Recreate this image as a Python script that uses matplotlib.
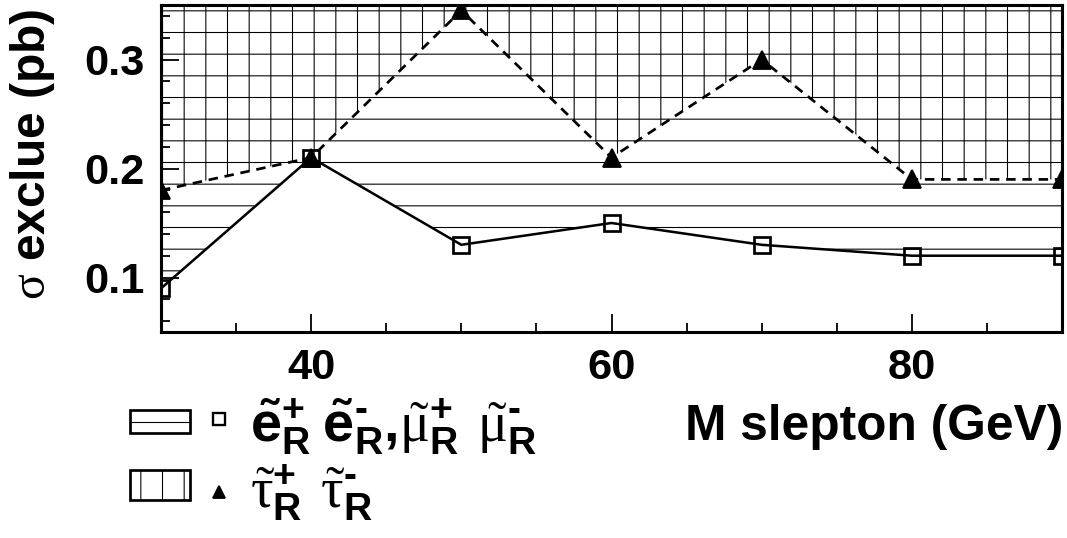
import matplotlib
matplotlib.use('Agg')
import matplotlib.pyplot as plt
from matplotlib.lines import Line2D
from matplotlib.patches import Rectangle
from matplotlib.ticker import FixedLocator, MultipleLocator

# slepton mass (GeV) and excluded cross section (pb)
mass = [30, 40, 50, 60, 70, 80, 90]
sigma_emu = [0.09, 0.21, 0.13, 0.15, 0.13, 0.12, 0.12]
sigma_tau = [0.18, 0.21, 0.345, 0.21, 0.30, 0.19, 0.19]

x_ticks = [40, 60, 80]
x_ticklabels = ['40', '60', '80']
y_ticks = [0.1, 0.2, 0.3]
y_ticklabels = ['0.1', '0.2', '0.3']
x_range = (30, 90)
y_range = (0.05, 0.35)

x_title = 'M slepton (GeV)'
y_title = r'$\mathrm{\sigma}$ exclue (pb)'
label_emu = (r'$\mathbf{\tilde{e}}_\mathbf{R}^\mathbf{+}\;'
             r'\mathbf{\tilde{e}}_\mathbf{R}^\mathbf{‐}\mathbf{,}'
             r'\tilde{\mathrm{\mu}}_\mathbf{R}^\mathbf{+}\;\,'
             r'\tilde{\mathrm{\mu}}_\mathbf{R}^\mathbf{‐}$')
label_tau = (r'$\tilde{\mathrm{\tau}}_\mathbf{R}^\mathbf{+}\;\,'
             r'\tilde{\mathrm{\tau}}_\mathbf{R}^\mathbf{‐}$')

DPI = 130
W, H = 1067, 538

plt.rcParams['font.family'] = ['Liberation Sans', 'DejaVu Sans']
plt.rcParams['font.weight'] = 'bold'
plt.rcParams['mathtext.fontset'] = 'custom'
plt.rcParams['mathtext.bf'] = 'Liberation Sans:weight=bold'
plt.rcParams['mathtext.rm'] = 'Liberation Serif:weight=normal:style=normal'
plt.rcParams['mathtext.it'] = 'Liberation Serif:weight=normal:style=italic'
plt.rcParams['hatch.color'] = 'black'
plt.rcParams['hatch.linewidth'] = 0.6


def fig_xy(px, py):
    """pixel position (origin top-left) -> figure fraction"""
    return px / W, 1 - py / H


fig = plt.figure(figsize=(W / DPI, H / DPI), dpi=DPI)
x0, y1 = fig_xy(161, 5)
x1, y0 = fig_xy(1062, 332)
ax = fig.add_axes([x0, y0, x1 - x0, y1 - y0])
ax.set_xlim(*x_range)
ax.set_ylim(*y_range)

# excluded regions
top = ax.get_ylim()[1]
ax.fill_between(mass, sigma_emu, top, facecolor='none', edgecolor='black',
                hatch='-', linewidth=0, zorder=1)
ax.fill_between(mass, sigma_tau, top, facecolor='none', edgecolor='black',
                hatch='|', linewidth=0, zorder=1)

ax.plot(mass, sigma_emu, color='black', lw=1.4, marker='s', ms=9,
        mfc='none', mec='black', mew=1.5, zorder=4)
ax.plot(mass, sigma_tau, color='black', lw=1.5, ls=(0, (3.5, 2.5)),
        marker='^', ms=9.5, mfc='black', mec='black', zorder=4)

ax.xaxis.set_major_locator(FixedLocator(x_ticks))
ax.set_xticklabels(x_ticklabels)
ax.xaxis.set_minor_locator(MultipleLocator(5))
ax.yaxis.set_major_locator(FixedLocator(y_ticks))
ax.set_yticklabels(y_ticklabels)
ax.yaxis.set_minor_locator(MultipleLocator(0.02))
ax.tick_params(which='both', direction='in', top=False, right=False,
               width=1.0, labelsize=24)
ax.tick_params(which='major', length=10, pad=9)
ax.tick_params(which='minor', length=5)
for sp in ax.spines.values():
    sp.set_linewidth(1.7)

# axis titles
fig.text(*fig_xy(1063, 440), x_title, ha='right', va='baseline',
         fontsize=27.5, fontweight='bold')
fig.text(*fig_xy(33, 154), y_title, ha='center', va='center', rotation=90,
         fontsize=26.5, fontweight='bold')

# legend
bx, by = fig_xy(130, 433)
fig.add_artist(Rectangle((bx, by), 60 / W, 23 / H, transform=fig.transFigure,
                         fill=False, hatch='-', lw=1.5, edgecolor='black'))
bx, by = fig_xy(130, 500)
fig.add_artist(Rectangle((bx, by), 60 / W, 30 / H, transform=fig.transFigure,
                         fill=False, hatch='|', lw=1.5, edgecolor='black'))
mx, my = fig_xy(219, 419)
fig.add_artist(Line2D([mx], [my], transform=fig.transFigure, marker='s',
                      ms=7, mfc='none', mec='black', mew=1.3, ls='none'))
mx, my = fig_xy(219, 492)
fig.add_artist(Line2D([mx], [my], transform=fig.transFigure, marker='^',
                      ms=7, mfc='black', mec='black', ls='none'))
fig.text(*fig_xy(250, 442), label_emu, ha='left', va='baseline', fontsize=31)
fig.text(*fig_xy(250, 508), label_tau, ha='left', va='baseline', fontsize=31)

fig.savefig('out.png', dpi=DPI)
